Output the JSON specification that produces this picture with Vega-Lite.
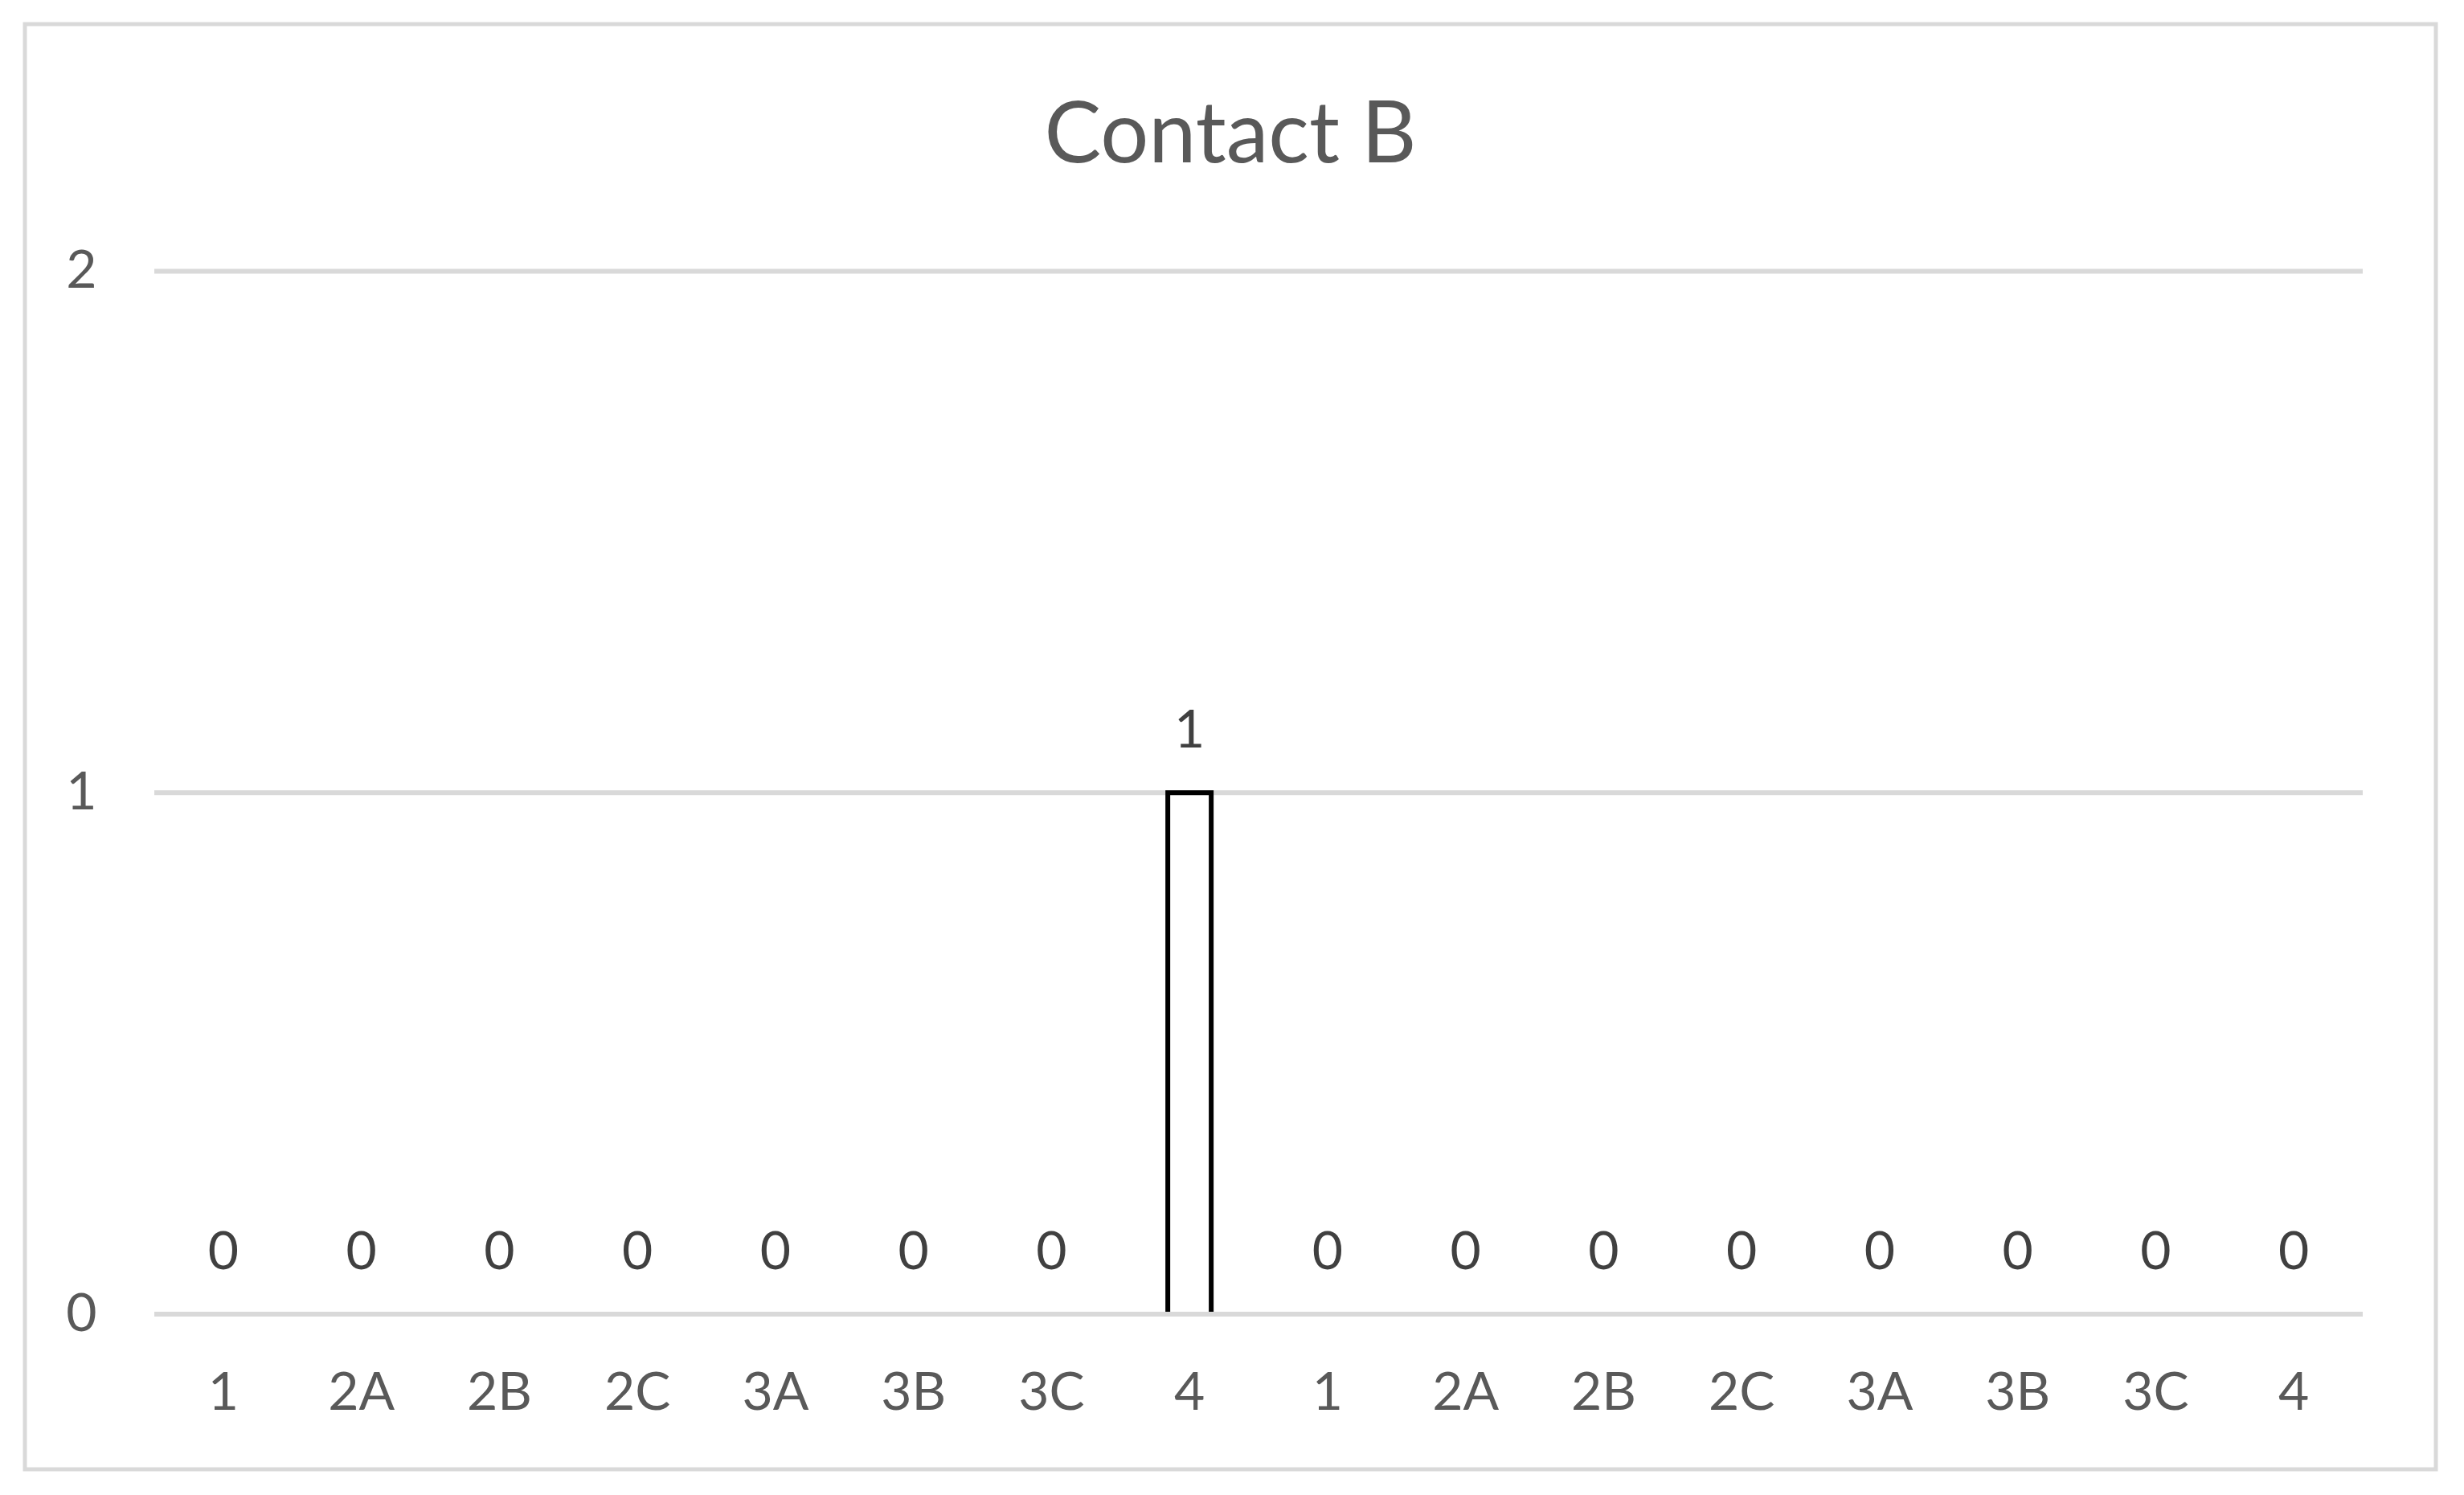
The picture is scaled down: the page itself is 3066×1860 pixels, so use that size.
{
  "$schema": "https://vega.github.io/schema/vega-lite/v6.json",
  "autosize": "none",
  "width": 3000,
  "height": 1798,
  "padding": {"left": 31, "top": 30, "right": 35, "bottom": 32},
  "background": "white",
  "config": {
    "view": {"stroke": "#d9d9d9", "strokeWidth": 5, "fill": "white"},
    "font": "Lato",
    "axisY": {
      "tickCount": 3,
      "labelExpr": "datum.value % 1 === 0 ? format(datum.value, 'd') : ''",
      "labelFont": "Lato",
      "labelFontSize": 66,
      "labelColor": "#595959",
      "labelPadding": 0,
      "labelOverlap": false,
      "labelBound": false,
      "labelFlush": false,
      "ticks": false,
      "tickSize": 0,
      "domain": false,
      "grid": false,
      "offset": -89,
      "title": null
    }
  },
  "title": {
    "text": "Contact B",
    "font": "Lato",
    "fontSize": 106,
    "fontWeight": "normal",
    "color": "#595959",
    "anchor": "middle",
    "frame": "group",
    "baseline": "alphabetic",
    "offset": -278
  },
  "datasets": {
    "counts": [
      {"id": "a1", "category": "1", "value": 0},
      {"id": "a2A", "category": "2A", "value": 0},
      {"id": "a2B", "category": "2B", "value": 0},
      {"id": "a2C", "category": "2C", "value": 0},
      {"id": "a3A", "category": "3A", "value": 0},
      {"id": "a3B", "category": "3B", "value": 0},
      {"id": "a3C", "category": "3C", "value": 0},
      {"id": "a4", "category": "4", "value": 1},
      {"id": "b1", "category": "1", "value": 0},
      {"id": "b2A", "category": "2A", "value": 0},
      {"id": "b2B", "category": "2B", "value": 0},
      {"id": "b2C", "category": "2C", "value": 0},
      {"id": "b3A", "category": "3A", "value": 0},
      {"id": "b3B", "category": "3B", "value": 0},
      {"id": "b3C", "category": "3C", "value": 0},
      {"id": "b4", "category": "4", "value": 0}
    ],
    "grid": [{"g": 0}, {"g": 1}, {"g": 2}],
    "zero": [{"g": 0}]
  },
  "resolve": {"scale": {"x": "independent"}},
  "layer": [
    {
      "data": {"name": "grid"},
      "mark": {"type": "rule", "color": "#d9d9d9", "strokeWidth": 6},
      "encoding": {
        "x": {"datum": 0, "type": "quantitative", "scale": {"domain": [0, 1], "range": [161, 2909], "nice": false, "zero": false}, "axis": null},
        "x2": {"datum": 1},
        "y": {
          "field": "g",
          "type": "quantitative",
          "title": null,
          "scale": {"domain": [0, 2], "range": [1605, 307.5], "nice": false}
        }
      }
    },
    {
      "data": {"name": "counts"},
      "layer": [
        {
          "mark": {"type": "bar", "fill": "white", "stroke": "black", "strokeWidth": 6, "width": {"band": 0.3144}},
          "encoding": {
            "y": {"field": "value", "type": "quantitative", "title": null},
            "strokeOpacity": {"condition": {"test": "datum.value > 0", "value": 1}, "value": 0},
            "fillOpacity": {"condition": {"test": "datum.value > 0", "value": 1}, "value": 0}
          }
        },
        {
          "mark": {"type": "text", "font": "Lato", "fontSize": 66, "color": "#404040", "baseline": "alphabetic", "align": "center", "dy": -56},
          "encoding": {
            "y": {"field": "value", "type": "quantitative", "title": null},
            "text": {"field": "value", "type": "quantitative", "format": "d"}
          }
        }
      ],
      "encoding": {
        "x": {
          "field": "id",
          "type": "nominal",
          "sort": null,
          "title": null,
          "scale": {
            "domain": ["a1", "a2A", "a2B", "a2C", "a3A", "a3B", "a3C", "a4", "b1", "b2A", "b2B", "b2C", "b3A", "b3B", "b3C", "b4"],
            "range": [161, 2909],
            "paddingInner": 0,
            "paddingOuter": 0
          },
          "axis": {
            "orient": "bottom",
            "labelExpr": "substring(datum.value, 1)",
            "labelAngle": 0,
            "labelFont": "Lato",
            "labelFontSize": 66,
            "labelColor": "#595959",
            "labelBaseline": "alphabetic",
            "labelPadding": 0,
            "labelOverlap": false,
            "offset": -75,
            "ticks": false,
            "tickSize": 0,
            "domain": false,
            "grid": false
          }
        }
      }
    },
    {
      "data": {"name": "zero"},
      "mark": {"type": "rule", "color": "#d9d9d9", "strokeWidth": 6},
      "encoding": {
        "x": {"datum": 0, "type": "quantitative", "scale": {"domain": [0, 1], "range": [161, 2909], "nice": false, "zero": false}, "axis": null},
        "x2": {"datum": 1},
        "y": {"field": "g", "type": "quantitative", "title": null}
      }
    }
  ]
}
